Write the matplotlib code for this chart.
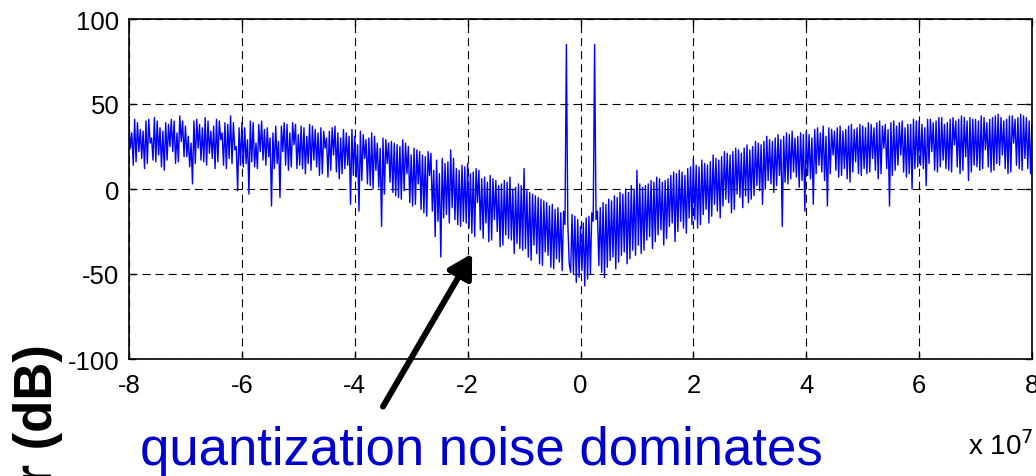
import numpy as np
import matplotlib
matplotlib.use("Agg")
import matplotlib.pyplot as plt

plt.rcParams['font.family'] = ['Liberation Sans', 'DejaVu Sans']
plt.rcParams['lines.scale_dashes'] = False

# ---- data ----
f_start = -8e7          # Hz
f_step = 2.5e5          # Hz, bin spacing
# first sample of each bin pair
power_db = [
    # [-8, -7) x1e7
    38, 14, 41, 22, 35, 12, 40, 27, 17, 42, 20, 36, 11, 39, 25, 41, 15, 33, 43, 19,
    # [-7, -6)
    37, 13, 3, 40, 24, 38, 16, 42, 21, 34, 12, 41, 29, 14, 39, 18, 43, 23, -1, 36,
    # [-6, -5)
    39, 15, -3, 40, 13, 27, 38, 17, 35, 19, -10, 12, 37, -5, 22, 39, 11, 33, 26, 38,
    # [-5, -4)
    14, 37, 9, 31, 38, 17, 35, 8, 36, 24, 7, 34, 20, 37, 6, 30, 12, 33, -9, 35,
    # [-4, -3)
    31, -13, 34, 18, 29, 2, 33, 11, 27, -22, 30, 15, 4, 28, -4, 26, -6, 29, 9, 25,
    # [-3, -2)
    -10, 24, 3, 22, -14, 19, 8, 21, -28, 17, -40, 18, -15, 16, 23, -18, 12, -22, 14, -20,
    # [-2, -1)
    15, -26, 10, -8, 11, -29, 7, -31, 8, -18, 5, -34, 3, -27, 4, 7, -38, 1, -35, 2,
    # [-1, 0)  (tone near -2.5e6)
    12, -40, -2, -33, -4, -44, -6, -37, -8, -46, -9, -41, -11, -48, -13, 85, -49, -15, -55, -18,
    # [0, 1)   (tone near +2.5e6)
    -22, -57, -17, -50, -14, 85, -45, -11, -52, -9, -42, -7, -47, -5, -39, -3, -44, -2, -36, 0,
    # [1, 2)
    11, -38, 1, -30, 3, -35, 4, -27, 6, -33, 5, -22, 8, -31, 9, -19, 10, -26, 12, -21,
    # [2, 3)
    18, -23, 13, -15, 15, -20, 16, -9, 18, -17, 19, -6, 21, -14, 22, -3, 23, -11, 24, -8,
    # [3, 4)
    -6, 25, 2, 27, -9, 28, 5, 29, -2, 30, 8, -22, 31, 3, 32, 10, 30, 1, 33, -13,
    # [4, 5)
    34, 6, -9, 35, 14, 33, 5, -10, 36, 20, 34, 7, 37, 12, 35, 4, 38, 16, 36, 8,
    # [5, 6)
    37, 9, 39, 18, 36, 6, 40, 24, 38, -10, 39, 11, 37, 20, 40, 7, 38, 0, 41, 13,
    # [6, 7)
    40, 12, 2, 41, 22, 39, 10, 42, 17, 38, 11, 41, 26, 40, 9, 43, 19, 5, 42, 14,
    # [7, 8]
    41, 11, 43, 23, 39, 10, 42, 15, 44, 20, 40, 9, 43, 27, 41, 12, 44, 18, 42, 9, 38,
]
# second sample of each bin pair
power_db_mid = [
    24, 33, 16, 39, 18, 34, 15, 41, 30, 16, 40, 13, 34, 17, 38, 22, 40, 16, 28, 40,
    19, 31, 27, 15, 41, 17, 36, 14, 40, 18, 37, 16, 40, 33, 12, 38, 15, 39, 25, 14,
    13, 36, 29, 16, 39, 12, 22, 40, 14, 36, 30, 33, 15, 28, 37, 14, 38, 13, 39, 12,
    32, 12, 36, 15, 11, 37, 13, 33, 9, 34, 30, 11, 36, 10, 33, 9, 35, 14, 31, 8,
    7, 26, 5, 32, 3, 30, 0, 31, 1, 24, -3, 29, 27, -2, 27, -5, 25, -1, 27, -8,
    20, -9, 23, -12, 20, -16, 22, -13, 11, -19, 9, -17, 15, -20, -11, 18, -21, 11, -19, 13,
    -23, 9, -28, 12, -24, 6, -20, 4, -30, 6, -25, 2, -33, 5, -29, -30, 0, -32, 3, -36,
    -35, -1, -42, -3, -38, -5, -45, -7, -39, -10, -47, -12, -43, -14, -21, -20, -44, -50, -16, -52,
    -48, -20, -53, -16, -19, -18, -13, -49, -8, -46, -6, -40, -4, -43, -2, -37, 0, -41, 2, -39,
    -33, 3, -36, 2, -28, 5, -31, 7, -24, 4, -29, 6, -20, 10, -25, 11, -23, 8, -17, 13,
    -18, 14, -21, 17, -12, 14, -16, 20, -13, 17, -10, 22, -8, 20, -12, 24, -5, 21, -4, 26,
    23, -4, 28, -1, 26, 0, 31, 3, 28, 2, 32, 29, 4, 33, 6, 34, 7, 31, 5, 32,
    8, 32, 30, 9, 36, 10, 37, 31, 9, 35, 11, 36, 8, 34, 6, 37, 10, 35, 9, 38,
    12, 36, 10, 38, 11, 39, 9, 37, 12, 35, 8, 40, 14, 39, 10, 36, 9, 38, 12, 40,
    14, 38, 36, 15, 41, 11, 40, 13, 42, 12, 39, 10, 42, 13, 41, 11, 42, 40, 10, 41,
    13, 40, 12, 42, 13, 41, 11, 43, 14, 42, 12, 41, 10, 43, 14, 42, 11, 43, 12, 40,
]

x_ticks = [-8e7, -6e7, -4e7, -2e7, 0, 2e7, 4e7, 6e7, 8e7]
x_tick_labels = ['-8', '-6', '-4', '-2', '0', '2', '4', '6', '8']
y_ticks = [-100, -50, 0, 50, 100]
y_tick_labels = ['-100', '-50', '0', '50', '100']

ylabel_text = 'Power (dB)'
note_text = 'quantization noise dominates'
arrow_head = (-1.92e7, -38)
arrow_tail = (-3.5e7, -128)

# each bin pair is drawn peak-then-trough, like a dense FFT trace
a = np.array(power_db[:len(power_db_mid)], dtype=float)
b = np.array(power_db_mid, dtype=float)
pair_hi = np.maximum(a, b)
pair_lo = np.minimum(a, b)
spectrum = np.empty(2 * len(b) + 1)
spectrum[0:-1:2] = pair_hi
spectrum[1::2] = pair_lo
spectrum[-1] = power_db[-1]
freq = f_start + f_step * np.arange(len(spectrum))

# ---- figure ----
W, H = 1036, 477
fig = plt.figure(figsize=(W / 100, H / 100), dpi=100)
ax = fig.add_axes([129 / W, 1 - 360 / H, (1032 - 129) / W, (360 - 20) / H])

ax.plot(freq, spectrum, color='#0000ff', lw=1.0)

ax.set_xlim(-8e7, 8e7)
ax.set_ylim(-100, 100)
ax.set_xticks(x_ticks)
ax.set_xticklabels(x_tick_labels)
ax.set_yticks(y_ticks)
ax.set_yticklabels(y_tick_labels)
ax.tick_params(direction='in', top=True, right=True, length=5, width=1,
               labelsize=18.5)
ax.tick_params(axis='x', pad=10)
ax.tick_params(axis='y', pad=7)
ax.grid(True, color='black', lw=0.8, linestyle=(0, (5.8, 3.6)))
for s in ax.spines.values():
    s.set_linewidth(1.2)
    s.set_color('black')

fig.text(968 / W, 1 - 455 / H, r'x 10$^{7}$', fontsize=20, ha='left',
         va='baseline')

fig.text(38 / W, 1 - 344 / H, ylabel_text, rotation=90, fontsize=38,
         fontweight='bold', ha='center', va='top')

fig.text(140 / W, 1 - 465 / H, note_text, fontsize=38, color='#0000cc',
         ha='left', va='baseline')

ax.annotate('', xy=arrow_head, xytext=arrow_tail,
            arrowprops=dict(arrowstyle='-|>,head_length=0.7,head_width=0.4',
                            lw=4.3, color='black', shrinkA=0, shrinkB=0,
                            mutation_scale=20),
            annotation_clip=False)

fig.savefig('out.png', dpi=100)
